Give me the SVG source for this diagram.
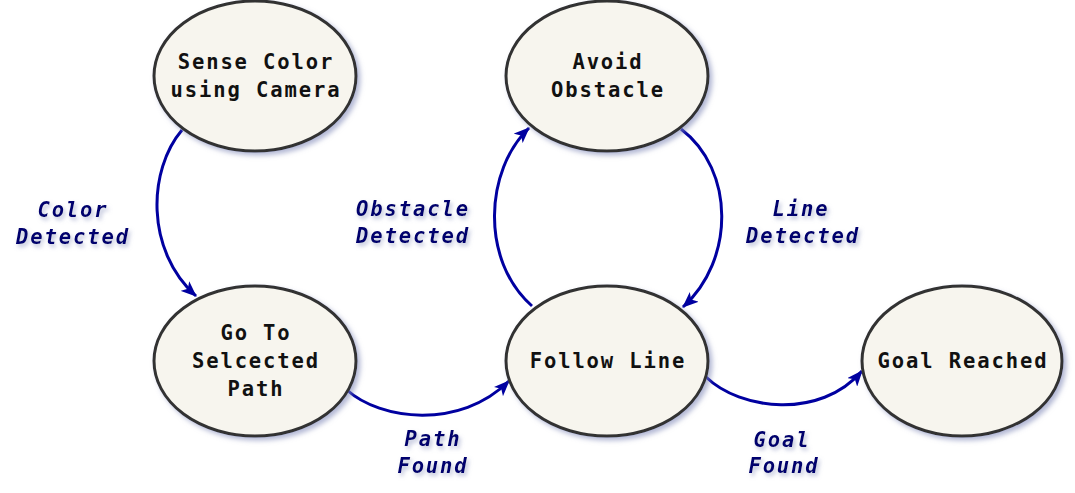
<svg xmlns="http://www.w3.org/2000/svg" width="1075" height="493" viewBox="0 0 1075 493">
<style>
.node ellipse{fill:#f7f5ee;stroke:#333;stroke-width:3;filter:url(#sh)}
.node text{font-family:"DejaVu Sans Mono",monospace;font-weight:bold;font-size:20.5px;letter-spacing:1.9px;fill:#111;text-anchor:middle}
.edge{fill:none;stroke:#0000a0;stroke-width:3;marker-end:url(#arr)}
.lbl{font-family:"DejaVu Sans Mono",monospace;font-weight:bold;font-style:italic;font-size:20.5px;letter-spacing:1.9px;fill:#00006e;text-anchor:middle;filter:url(#tsh)}
</style>
<defs>
<filter id="sh" x="-10%" y="-10%" width="130%" height="130%">
<feDropShadow dx="3" dy="3" stdDeviation="2.5" flood-color="#8088b8" flood-opacity="0.6"/>
</filter>
<filter id="tsh" x="-10%" y="-20%" width="130%" height="160%">
<feDropShadow dx="2" dy="3" stdDeviation="2" flood-color="#8088b8" flood-opacity="0.55"/>
</filter>
<marker id="arr" viewBox="0 0 16 13" refX="15" refY="6.5" markerWidth="16" markerHeight="13" markerUnits="userSpaceOnUse" orient="auto">
<path d="M0,0 L16,6.5 L0,13 L4,6.5 Z" fill="#0000a0"/>
</marker>
</defs>
<g id="edges">
<path class="edge" d="M182,130 C148,170 145,250 196,296"/>
<path class="edge" d="M347,390 C380,420 460,430 509,381"/>
<path class="edge" d="M532,306 C480,260 485,170 529,128"/>
<path class="edge" d="M681,129 C735,170 735,260 683,307"/>
<path class="edge" d="M706,377 C740,410 820,420 862,371"/>
</g>
<g id="labels">
<text class="lbl" x="73" y="217">Color</text>
<text class="lbl" x="73" y="244">Detected</text>
<text class="lbl" x="413" y="216">Obstacle</text>
<text class="lbl" x="413" y="243">Detected</text>
<text class="lbl" x="801" y="216">Line</text>
<text class="lbl" x="803" y="243">Detected</text>
<text class="lbl" x="433" y="446">Path</text>
<text class="lbl" x="433" y="473">Found</text>
<text class="lbl" x="782" y="447">Goal</text>
<text class="lbl" x="784" y="473">Found</text>
</g>
<g id="n-sense" class="node">
<ellipse cx="255" cy="76" rx="101" ry="75"/>
<text x="256" y="69">Sense Color</text>
<text x="256" y="97">using Camera</text>
</g>
<g id="n-avoid" class="node">
<ellipse cx="607" cy="76" rx="101" ry="75"/>
<text x="608" y="69">Avoid</text>
<text x="608" y="97">Obstacle</text>
</g>
<g id="n-goto" class="node">
<ellipse cx="255" cy="361" rx="101" ry="75"/>
<text x="256" y="340">Go To</text>
<text x="256" y="368">Selcected</text>
<text x="256" y="396">Path</text>
</g>
<g id="n-follow" class="node">
<ellipse cx="607" cy="361" rx="101" ry="75"/>
<text x="608" y="368">Follow Line</text>
</g>
<g id="n-goal" class="node">
<ellipse cx="962" cy="361" rx="100" ry="75"/>
<text x="963" y="368">Goal Reached</text>
</g>
</svg>
